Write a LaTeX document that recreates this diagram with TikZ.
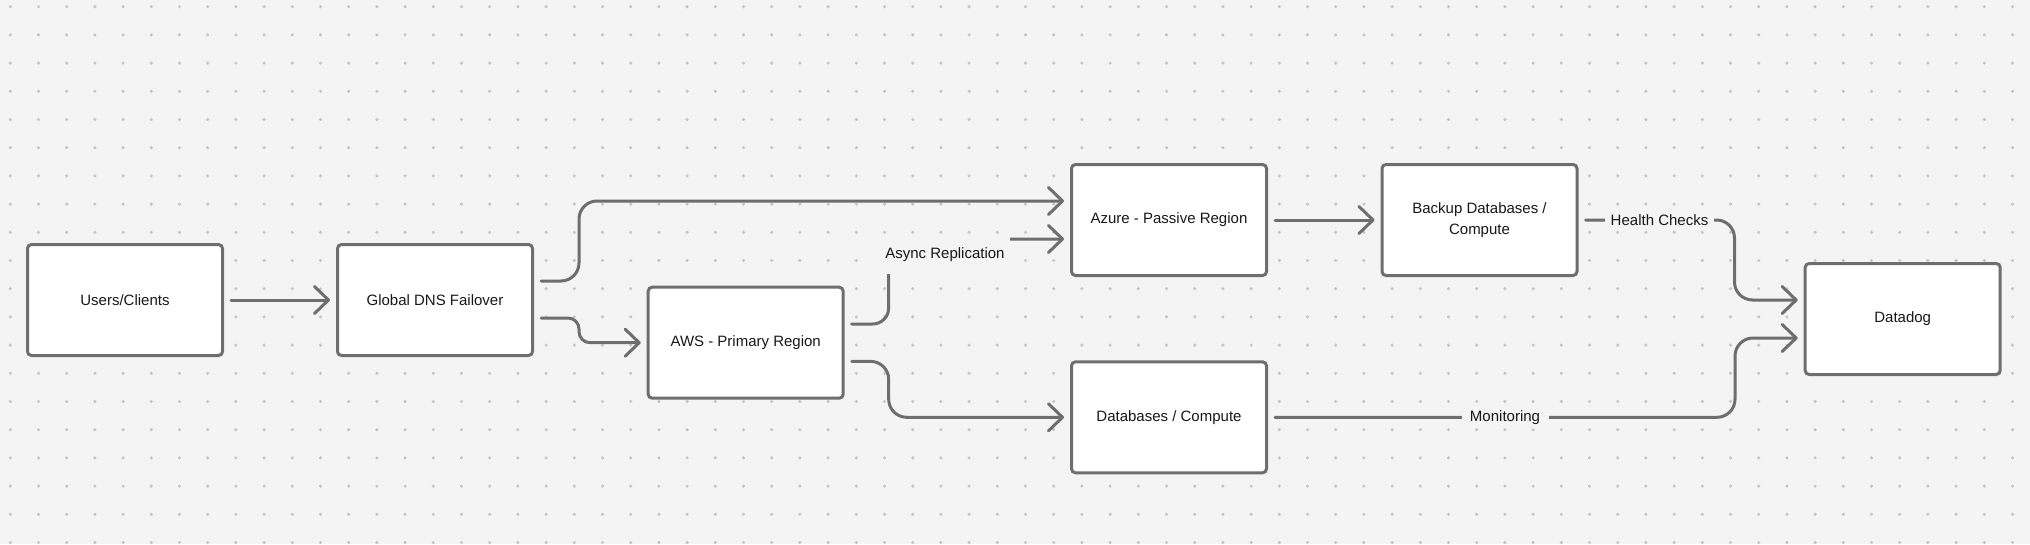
\documentclass[tikz,border=0pt]{standalone}
\usepackage{fontspec}
\setmainfont{Liberation Sans}
\usetikzlibrary{arrows.meta,calc}
\definecolor{bgc}{HTML}{F4F4F4}
\definecolor{dotc}{HTML}{C4C4C4}
\definecolor{strokec}{HTML}{6E6E6E}
\definecolor{textc}{HTML}{181818}
\tikzset{
  box/.style={draw=strokec, line width=3pt, fill=white, rounded corners=4pt,
    minimum width=195pt, minimum height=111pt, inner sep=0pt, align=center,
    text=textc, font=\fontsize{15}{21}\selectfont},
  conn/.style={draw=strokec, line width=3pt, line cap=round,
    -{Straight Barb[length=14pt,width=27pt,round]}, shorten <=7pt, shorten >=6pt},
  lbl/.style={fill=bgc, text=textc, inner sep=0pt, font=\fontsize{15}{21}\selectfont}
}
\begin{document}
\begin{tikzpicture}[x=1pt,y=-1pt]
\fill[bgc] (0,0) rectangle (2030,544);
\useasboundingbox (0,0) rectangle (2030,544);
\foreach \i in {0,...,71}{
  \foreach \j in {0,...,19}{
    \fill[dotc] (10.3+28.2*\i, 6.7+28.2*\j) circle (1.7pt);
  }
}
\node[box] (users)   at (125,300)    {Users/Clients};
\node[box] (dns)     at (435,300)    {Global DNS Failover};
\node[box] (aws)     at (745.7,342.7) {AWS - Primary Region};
\node[box] (azure)   at (1169,220)   {\raisebox{-1pt}{Azure - Passive Region}};
\node[box] (db)      at (1169,417.3) {Databases / Compute};
\node[box] (backup)  at (1479.5,220) {Backup Databases /\\Compute};
\node[box] (datadog) at (1902.7,319) {Datadog};

\draw[conn] (users.east) -- (dns.west);
\draw[conn, rounded corners=18pt] ([yshift=19pt]dns.east) -- ++(45,0) |- ([yshift=19pt]azure.west);
\draw[conn, rounded corners=11pt] ([yshift=-18pt]dns.east) -- ++(45,0) |- (aws.west);
\draw[conn, rounded corners=16pt] ([yshift=18.7pt]aws.east) -- ++(44,0) |- ([yshift=-19pt]azure.west);
\draw[conn, rounded corners=18pt] ([yshift=-18.7pt]aws.east) -- ++(44,0) |- (db.west);
\draw[conn] (azure.east) -- (backup.west);
\draw[conn, rounded corners=18pt] (backup.east) -- ++(156,0) |- ([yshift=19pt]datadog.west);
\draw[conn, rounded corners=18pt] (db.east) -- ++(467,0) |- ([yshift=-19pt]datadog.west);

\node[lbl, minimum width=130pt, minimum height=38pt] (async) at (945,255) {Async Replication};
\node[lbl, minimum width=109pt, minimum height=20pt] (health) at (1659.5,220) {Health Checks};
\node[lbl, minimum width=87pt, minimum height=20pt] (monit) at (1505,417.3) {Monitoring};
\end{tikzpicture}
\end{document}
